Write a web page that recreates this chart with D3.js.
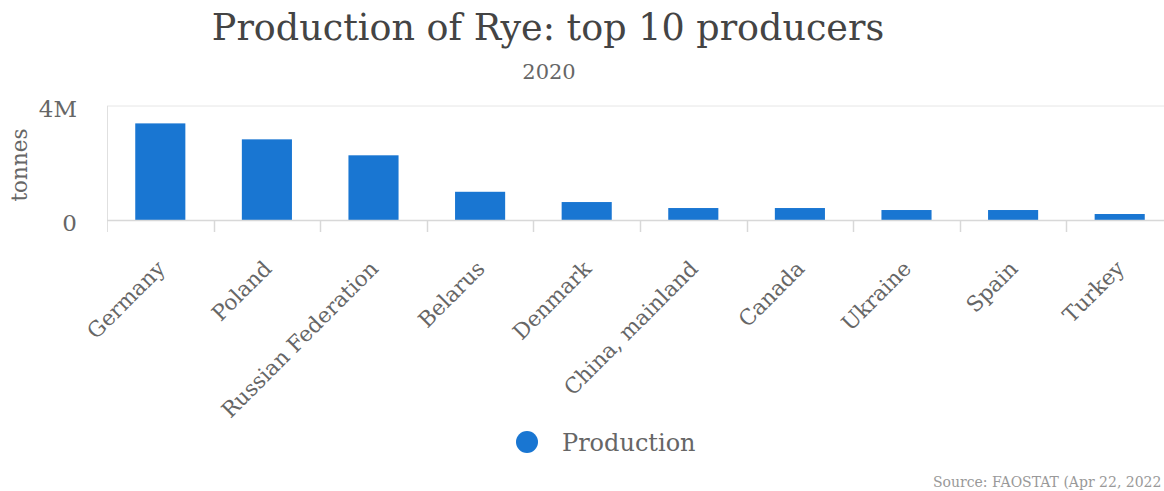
<!DOCTYPE html>
<html>
<head>
<meta charset="utf-8">
<script src="https://cdn.jsdelivr.net/npm/d3@7"></script>
<style>
  html, body { margin: 0; padding: 0; background: #fff; }
  svg { display: block; }
  text { font-family: 'DejaVu Serif', serif; }
</style>
</head>
<body>
<svg id="chart" width="1164" height="491"></svg>
<script>
// Rye production, 2020 (tonnes)
const countries = ["Germany", "Poland", "Russian Federation", "Belarus", "Denmark",
                   "China, mainland", "Canada", "Ukraine", "Spain", "Turkey"];
const production = [3390000, 2830000, 2270000, 990000, 630000,
                    420000, 420000, 350000, 350000, 210000];
const yTicks = [0, 4000000];
const yTickLabels = ["0", "4M"];

const svg = d3.select("#chart");
const W = 1164, H = 491;
const plot = { left: 107, right: 1173, top: 106, bottom: 220 };

const x = d3.scaleBand().domain(countries).range([plot.left, plot.right]).paddingInner(0.53).paddingOuter(0.265);
const y = d3.scaleLinear().domain([0, 4000000]).range([plot.bottom, plot.top]);

// title block
svg.append("text").attr("x", 548).attr("y", 40).attr("text-anchor", "middle")
  .attr("font-size", 36.5).attr("fill", "#444").text("Production of Rye: top 10 producers");
svg.append("text").attr("x", 549).attr("y", 79).attr("text-anchor", "middle")
  .attr("font-size", 21).attr("fill", "#666").text("2020");

// horizontal grid
svg.append("g").selectAll("line").data(yTicks.filter(d => d > 0)).join("line")
  .attr("x1", plot.left).attr("x2", W).attr("y1", d => y(d)).attr("y2", d => y(d))
  .attr("stroke", "#e6e6e6").attr("stroke-width", 1);

// left edge line
svg.append("line").attr("x1", plot.left + 0.5).attr("x2", plot.left + 0.5)
  .attr("y1", plot.top).attr("y2", plot.bottom + 12).attr("stroke", "#e0e0e0");

// bars
svg.append("g").selectAll("rect").data(countries).join("rect")
  .attr("x", d => x(d)).attr("width", x.bandwidth())
  .attr("y", (d, i) => y(production[i]))
  .attr("height", (d, i) => y(0) - y(production[i]))
  .attr("fill", "#1976d2");

// x axis: baseline and category ticks at band boundaries
const step = x.step();
const boundaries = countries.map((d, i) => plot.left + i * step);
svg.append("line").attr("x1", plot.left).attr("x2", W).attr("y1", plot.bottom + 0.5).attr("y2", plot.bottom + 0.5)
  .attr("stroke", "#d8d8d8").attr("stroke-width", 1.5);
svg.append("g").selectAll("line").data(boundaries.slice(1)).join("line")
  .attr("x1", d => Math.round(d) + 0.5).attr("x2", d => Math.round(d) + 0.5)
  .attr("y1", plot.bottom).attr("y2", plot.bottom + 12)
  .attr("stroke", "#d8d8d8").attr("stroke-width", 1.5);

// category labels
svg.append("g").selectAll("text").data(countries).join("text")
  .attr("transform", d => `translate(${x(d) + x.bandwidth() / 2 + 6},${plot.bottom + 50}) rotate(-45)`)
  .attr("text-anchor", "end").attr("font-size", 21.5).attr("fill", "#666").text(d => d);

// y tick labels
svg.append("g").selectAll("text").data(yTicks).join("text")
  .attr("x", 77).attr("y", d => y(d) + 11).attr("text-anchor", "end")
  .attr("font-size", 23).attr("fill", "#666").text((d, i) => yTickLabels[i]);

// y axis title
svg.append("text").attr("transform", "translate(27,165) rotate(-90)").attr("text-anchor", "middle")
  .attr("font-size", 21.5).attr("fill", "#666").text("tonnes");

// legend
svg.append("circle").attr("cx", 527).attr("cy", 442).attr("r", 11).attr("fill", "#1976d2");
svg.append("text").attr("x", 562).attr("y", 451).attr("font-size", 24).attr("fill", "#666").text("Production");

// source note
svg.append("text").attr("x", 933).attr("y", 487).attr("font-size", 14).attr("fill", "#999")
  .text("Source: FAOSTAT (Apr 22, 2022");
</script>
</body>
</html>
